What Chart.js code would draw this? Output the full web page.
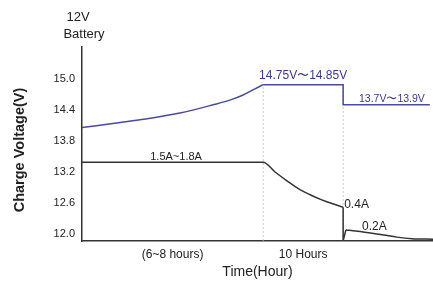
<!DOCTYPE html>
<html>
<head>
<meta charset="utf-8">
<script src="https://cdn.jsdelivr.net/npm/chart.js@4.4.1/dist/chart.umd.min.js"></script>
<style>
  html, body { margin: 0; padding: 0; background: #fff; }
  #wrap { width: 433px; height: 284px; }
</style>
</head>
<body>
<div id="wrap"><canvas id="myChart" width="433" height="284"></canvas></div>
<script>
// voltage curve (blue), time in normalised units 0..100
const battTime = [0, 8.8, 16.5, 27.9, 37.3, 42.5, 45.9, 49, 51.6, 74.4, 74.4, 99.1];
const battVolt = [14.06, 14.14, 14.21, 14.34, 14.50, 14.60, 14.69, 14.80, 14.89, 14.89, 14.50, 14.50];

// charge current curve (dark), drawn on the same schematic scale
const currTime  = [0, 51.6, 55, 58.8, 62.1, 65, 68.3, 71.2, 74.4, 74.4, 75.2, 78, 82.1, 86, 89.7, 94, 100];
const currLevel = [13.39, 13.39, 13.20, 13.01, 12.86, 12.76, 12.66, 12.59, 12.52, 11.87, 12.08, 12.06, 12.02, 11.98, 11.94, 11.91, 11.90];

const stageEnds = [51.6, 74.4];
const yTicks = [12.0, 12.6, 13.2, 13.8, 14.4, 15.0];
const xTickPos = [25.8, 63.0];
const xLabels = ['(6~8 hours)', '10 Hours'];

const FONT = "'Liberation Sans', Arial, sans-serif";

const pts = (xs, ys, a, b) => xs.slice(a, b).map((x, i) => ({ x: x, y: ys[a + i] }));

function piece(data, color, smooth) {
    return {
        data: data,
        borderColor: color,
        borderWidth: 1.5,
        pointRadius: 0,
        tension: 0,
        cubicInterpolationMode: smooth ? 'monotone' : 'default',
    };
}

const BLUE = '#4a4a9c', DARK = '#333333';
const datasets = [
    piece(pts(battTime, battVolt, 0, 9), BLUE, true),
    piece(pts(battTime, battVolt, 8, battTime.length), BLUE, false),
    piece(pts(currTime, currLevel, 0, 9), DARK, true),
    piece(pts(currTime, currLevel, 8, 11), DARK, false),
    piece(pts(currTime, currLevel, 10, currTime.length), DARK, true),
];
for (const t of stageEnds) {
    datasets.push({
        data: [{ x: t, y: 11.865 }, { x: t, y: battVolt[8] }],
        borderColor: '#b8b8b8',
        borderWidth: 0.8,
        borderDash: [2, 2],
        pointRadius: 0,
    });
}

// extra text, placed in data coordinates
const notes = [
    { text: '14.75V\u301C14.85V', x: 63.0, y: 15.07, color: '#3a3a8c', size: 12, align: 'center' },
    { text: '13.7V\u301C13.9V', x: 88.3, y: 14.62, color: '#3a3a8c', size: 10.5, align: 'center' },
    { text: '1.5A~1.8A', x: 26.8, y: 13.50, color: '#222', size: 11, align: 'center' },
    { text: '0.4A', x: 74.7, y: 12.56, color: '#222', size: 12, align: 'left' },
    { text: '0.2A', x: 79.8, y: 12.15, color: '#222', size: 12, align: 'left' },
];

const textPlugin = {
    id: 'texts',
    afterDraw(chart) {
        const ctx = chart.ctx;
        const xs = chart.scales.x, ys = chart.scales.y;
        ctx.save();
        ctx.textBaseline = 'middle';
        for (const n of notes) {
            ctx.font = n.size + 'px ' + FONT;
            ctx.fillStyle = n.color;
            ctx.textAlign = n.align;
            ctx.fillText(n.text, xs.getPixelForValue(n.x), ys.getPixelForValue(n.y));
        }
        ctx.fillStyle = '#222';
        ctx.textAlign = 'center';
        ctx.font = '13px ' + FONT;
        ctx.fillText('12V', 78, 17);
        ctx.fillText('Battery', 84, 34);
        // y axis title
        ctx.translate(20, 150);
        ctx.rotate(-Math.PI / 2);
        ctx.font = 'bold 14.5px ' + FONT;
        ctx.fillText('Charge Voltage(V)', 0, 0);
        ctx.restore();
    }
};

new Chart(document.getElementById('myChart').getContext('2d'), {
    type: 'line',
    data: { datasets: datasets },
    options: {
        responsive: false,
        animation: false,
        layout: { padding: { top: 47, right: 0, left: 0, bottom: 0 } },
        plugins: { legend: { display: false }, tooltip: { enabled: false } },
        scales: {
            x: {
                type: 'linear',
                min: 0,
                max: 100,
                grid: { display: false, drawTicks: false },
                border: { display: true, color: '#333', width: 1.5 },
                afterBuildTicks: function (scale) {
                    scale.ticks = xTickPos.map(v => ({ value: v }));
                },
                afterFit: function (scale) { scale.height = 43; },
                ticks: {
                    autoSkip: false,
                    maxRotation: 0,
                    padding: 6,
                    color: '#222',
                    font: { family: FONT, size: 12 },
                    callback: function (v) {
                        const i = xTickPos.indexOf(v);
                        return i >= 0 ? xLabels[i] : '';
                    }
                },
                title: {
                    display: true,
                    text: 'Time(Hour)',
                    color: '#222',
                    font: { family: FONT, size: 14 },
                    padding: { top: 0, bottom: 3 }
                }
            },
            y: {
                type: 'linear',
                min: 11.865,
                max: 15.619,
                grid: { display: false, drawTicks: false },
                border: { display: true, color: '#333', width: 1.5 },
                afterBuildTicks: function (scale) {
                    scale.ticks = yTicks.map(v => ({ value: v }));
                },
                afterFit: function (scale) { scale.width = 82; },
                ticks: {
                    padding: 7,
                    color: '#222',
                    font: { family: FONT, size: 11 },
                    callback: function (v) { return v.toFixed(1); }
                }
            }
        }
    },
    plugins: [textPlugin]
});
</script>
</body>
</html>
